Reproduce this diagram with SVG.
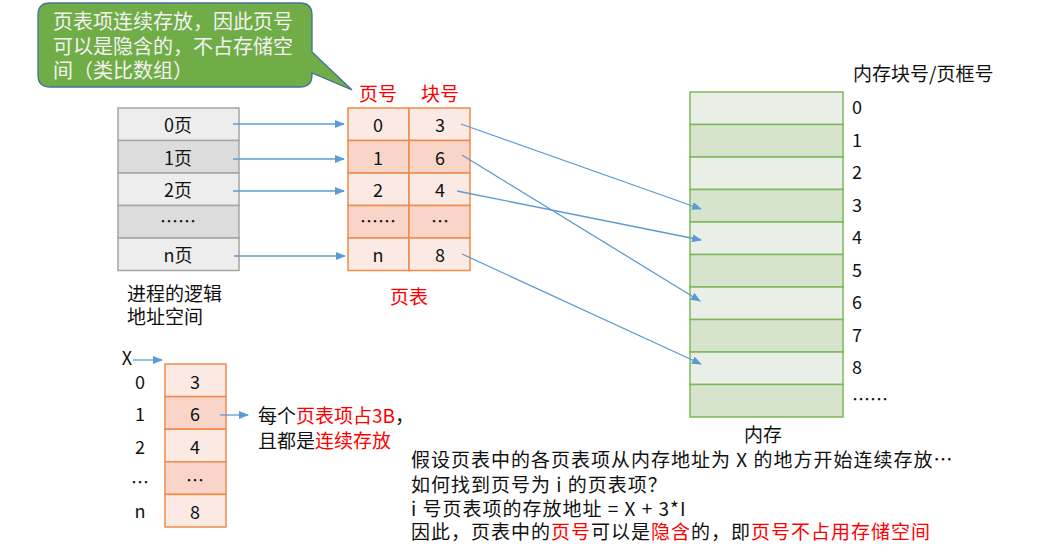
<svg xmlns="http://www.w3.org/2000/svg" width="1053" height="545" viewBox="0 0 1053 545">
<defs>
<marker id="ah" markerUnits="userSpaceOnUse" markerWidth="10" markerHeight="8" refX="9" refY="4" orient="auto">
<path d="M0,0 L10,4 L0,8 Z" fill="#5B9BD5"/>
</marker>
<style>
text{font-family:"Noto Sans CJK SC","Noto Sans",sans-serif;fill:#111;}
.c{text-anchor:middle;dominant-baseline:central;}
.t18{font-size:18px;}
.t19{font-size:19px;}
.t20{font-size:20px;}
.nt{font-size:19px;letter-spacing:1px;}
.red{fill:#FF0000;}
.g1{fill:#EDEDED;stroke:#A5A5A5;stroke-width:1.5;}
.g2{fill:#DCDCDC;stroke:#A5A5A5;stroke-width:1.5;}
.o1{fill:#FBE9E3;stroke:#F08A4B;stroke-width:1.5;}
.o2{fill:#F8D5C8;stroke:#F08A4B;stroke-width:1.5;}
.m1{fill:#E9EFE6;stroke:#7DB858;stroke-width:1.5;}
.m2{fill:#D6E4CE;stroke:#7DB858;stroke-width:1.5;}
.ar{stroke:#5B9BD5;stroke-width:1.3;fill:none;marker-end:url(#ah);}
</style>
</defs>
<rect width="1053" height="545" fill="#FFFFFF"/>

<g id="callout">
<path d="M50,3 H300 Q312,3 312,15 V52 L352,90 L312,73 V75 Q312,87 300,87 H50 Q38,87 38,75 V15 Q38,3 50,3 Z" fill="#70AD47" stroke="#41719C" stroke-width="1.3"/>
<text class="t20" x="53" y="29" style="fill:#F2F2F2">页表项连续存放，因此页号</text>
<text class="t20" x="53" y="54" style="fill:#F2F2F2">可以是隐含的，不占存储空</text>
<text class="t20" x="53" y="78" style="fill:#F2F2F2">间（类比数组）</text>
</g>

<g id="logical-space">
<rect class="g1" x="118" y="108" width="121" height="32.5"/>
<rect class="g2" x="118" y="140.5" width="121" height="32.5"/>
<rect class="g1" x="118" y="173" width="121" height="32.5"/>
<rect class="g2" x="118" y="205.5" width="121" height="32.5"/>
<rect class="g1" x="118" y="238" width="121" height="32.5"/>
<text class="c t18" x="178" y="124">0页</text>
<text class="c t18" x="178" y="157">1页</text>
<text class="c t18" x="178" y="189">2页</text>
<text class="c t18" x="178" y="220">……</text>
<text class="c t18" x="178" y="254">n页</text>
<text class="t19" x="127" y="301">进程的逻辑</text>
<text class="t19" x="127" y="324">地址空间</text>
</g>

<g id="page-table">
<text class="c t19 red" x="378" y="92">页号</text>
<text class="c t19 red" x="440" y="92">块号</text>
<rect class="o1" x="348" y="108" width="61" height="32.5"/>
<rect class="o1" x="409" y="108" width="61" height="32.5"/>
<rect class="o2" x="348" y="140.5" width="61" height="32.5"/>
<rect class="o2" x="409" y="140.5" width="61" height="32.5"/>
<rect class="o1" x="348" y="173" width="61" height="32.5"/>
<rect class="o1" x="409" y="173" width="61" height="32.5"/>
<rect class="o2" x="348" y="205.5" width="61" height="32.5"/>
<rect class="o2" x="409" y="205.5" width="61" height="32.5"/>
<rect class="o1" x="348" y="238" width="61" height="32.5"/>
<rect class="o1" x="409" y="238" width="61" height="32.5"/>
<text class="c t18" x="378" y="124">0</text>
<text class="c t18" x="440" y="124">3</text>
<text class="c t18" x="378" y="157">1</text>
<text class="c t18" x="440" y="157">6</text>
<text class="c t18" x="378" y="189">2</text>
<text class="c t18" x="440" y="189">4</text>
<text class="c t18" x="378" y="220">……</text>
<text class="c t18" x="440" y="220">…</text>
<text class="c t18" x="378" y="254">n</text>
<text class="c t18" x="440" y="254">8</text>
<text class="c t19 red" x="409" y="295">页表</text>
</g>

<g id="memory">
<text class="t19" x="853" y="81">内存块号/页框号</text>
<rect class="m1" x="690" y="92" width="153" height="32.5"/>
<rect class="m2" x="690" y="124.5" width="153" height="32.5"/>
<rect class="m1" x="690" y="157" width="153" height="32.5"/>
<rect class="m2" x="690" y="189.5" width="153" height="32.5"/>
<rect class="m1" x="690" y="222" width="153" height="32.5"/>
<rect class="m2" x="690" y="254.5" width="153" height="32.5"/>
<rect class="m1" x="690" y="287" width="153" height="32.5"/>
<rect class="m2" x="690" y="319.5" width="153" height="32.5"/>
<rect class="m1" x="690" y="352" width="153" height="32.5"/>
<rect class="m2" x="690" y="384.5" width="153" height="32.5"/>
<text class="t18" x="852" y="114">0</text>
<text class="t18" x="852" y="147">1</text>
<text class="t18" x="852" y="179">2</text>
<text class="t18" x="852" y="212">3</text>
<text class="t18" x="852" y="244">4</text>
<text class="t18" x="852" y="277">5</text>
<text class="t18" x="852" y="309">6</text>
<text class="t18" x="852" y="342">7</text>
<text class="t18" x="852" y="374">8</text>
<text class="t18" x="852" y="406">……</text>
<text class="c t19" x="763" y="433">内存</text>
</g>

<g id="contiguous-table">
<text class="c t18" x="127" y="357">X</text>
<rect class="o1" x="165" y="364" width="61" height="32.6"/>
<rect class="o2" x="165" y="396.6" width="61" height="32.6"/>
<rect class="o1" x="165" y="429.2" width="61" height="32.6"/>
<rect class="o2" x="165" y="461.8" width="61" height="32.6"/>
<rect class="o1" x="165" y="494.4" width="61" height="32.6"/>
<text class="c t18" x="195" y="381">3</text>
<text class="c t18" x="195" y="413">6</text>
<text class="c t18" x="195" y="446">4</text>
<text class="c t18" x="195" y="479">…</text>
<text class="c t18" x="195" y="511">8</text>
<text class="c t18" x="140" y="381">0</text>
<text class="c t18" x="140" y="413">1</text>
<text class="c t18" x="140" y="446">2</text>
<text class="c t18" x="140" y="481">…</text>
<text class="c t18" x="140" y="510">n</text>
<text class="t19" x="258" y="423">每个<tspan class="red">页表项占3B</tspan>，</text>
<text class="t19" x="258" y="448">且都是<tspan class="red">连续存放</tspan></text>
</g>

<g id="notes">
<text class="nt" x="411" y="467">假设页表中的各页表项从内存地址为 X 的地方开始连续存放…</text>
<text class="nt" x="411" y="492">如何找到页号为 i 的页表项？</text>
<text class="nt" x="411" y="516">i 号页表项的存放地址 = X + 3*I</text>
<text class="nt" x="411" y="539">因此，页表中的<tspan class="red">页号</tspan>可以是<tspan class="red">隐含</tspan>的，即<tspan class="red">页号不占用存储空间</tspan></text>
</g>

<g id="connectors">
<line class="ar" x1="233" y1="124" x2="344" y2="124"/>
<line class="ar" x1="233" y1="159" x2="344" y2="159"/>
<line class="ar" x1="233" y1="191" x2="344" y2="191"/>
<line class="ar" x1="234" y1="256" x2="345" y2="256"/>
<line class="ar" x1="461" y1="124" x2="701" y2="209"/>
<line class="ar" x1="462" y1="155" x2="700" y2="301"/>
<line class="ar" x1="457" y1="191" x2="701" y2="240"/>
<line class="ar" x1="462" y1="254" x2="701" y2="364"/>
<line class="ar" x1="133" y1="360" x2="162" y2="360"/>
<line class="ar" x1="220" y1="415" x2="248" y2="415"/>
</g>
</svg>
